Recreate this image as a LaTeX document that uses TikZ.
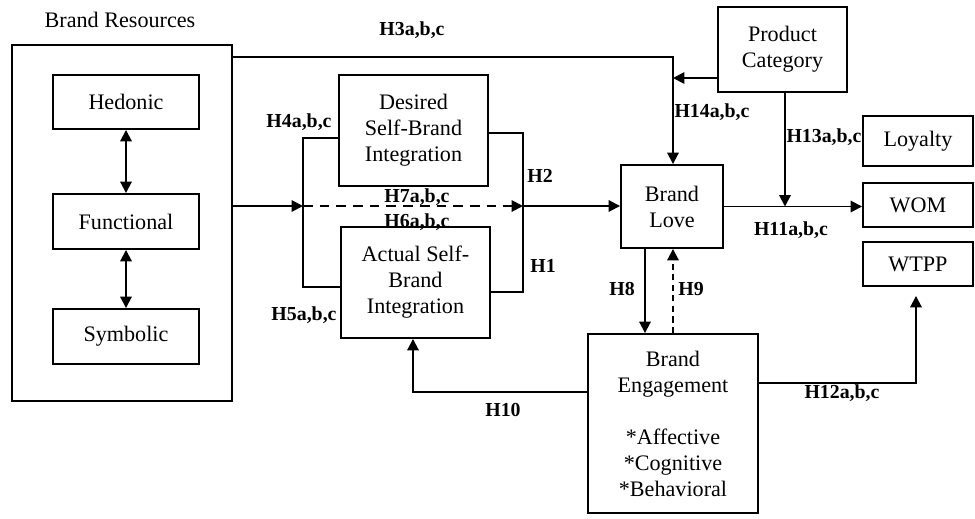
\documentclass[tikz,border=0pt]{standalone}
\usepackage{fontspec}
\setmainfont{Liberation Serif}
\usetikzlibrary{arrows.meta}

\begin{document}
\begin{tikzpicture}[x=0.02cm, y=-0.02cm, line width=1.1pt,
    >={Triangle[length=6.5pt,width=6.5pt]},
    box/.style={draw, align=center, inner sep=0pt, font=\fontsize{12.6}{14.8}\selectfont},
    hyp/.style={font=\fontsize{11.3}{13}\selectfont\bfseries}]
  \useasboundingbox (0,0) rectangle (975,518);
  % brand resources
  \node (restitle) [font=\fontsize{12.6}{14.8}\selectfont] at (120,20) {Brand Resources};
  \node (res) [box, minimum width=4.40cm, minimum height=7.12cm] at (122,223) {};
  \node (hedonic) [box, minimum width=2.92cm, minimum height=1.08cm] at (126,102) {Hedonic};
  \node (functional) [box, minimum width=2.92cm, minimum height=1.10cm] at (126,221.5) {Functional};
  \node (symbolic) [box, minimum width=2.92cm, minimum height=1.10cm] at (126,336.5) {Symbolic};
  \draw [<->] (hedonic) -- (functional);
  \draw [<->] (functional) -- (symbolic);
  % self-brand integration
  \node (desired) [box, minimum width=2.98cm, minimum height=2.22cm] at (413.5,130.5) {Desired\\Self-Brand\\Integration};
  \node (actual) [box, minimum width=2.98cm, minimum height=2.22cm] at (415.5,282.5) {Actual Self-\\Brand\\Integration};
  \node (love) [box, minimum width=2.04cm, minimum height=1.66cm] at (672,206.5) {Brand\\Love};
  \node (category) [box, minimum width=2.58cm, minimum height=1.70cm] at (782.5,49.5) {Product\\Category};
  \node (loyalty) [box, minimum width=2.20cm, minimum height=1.00cm] at (918,141) {Loyalty};
  \node (wom) [box, minimum width=2.20cm, minimum height=0.88cm] at (918,205) {WOM};
  \node (wtpp) [box, minimum width=2.20cm, minimum height=0.88cm] at (918,264) {WTPP};
  \node (engagement) [box, minimum width=3.40cm, minimum height=3.58cm] at (673,423.5)
    {Brand\\Engagement\\[14.8pt]*Affective\\*Cognitive\\*Behavioral};
  % connectors
  \coordinate (split) at (303,206);
  \coordinate (merge) at (523,206);
  \coordinate (lt) at (303,138);
  \coordinate (lb) at (303,287);
  \coordinate (rt) at (523,133);
  \coordinate (rb) at (523,292);
  \draw [->] (res.east |- split) -- (split);
  \draw (desired.west |- lt) -- (lt) -- (lb) -- (actual.west |- lb);
  \draw (desired.east |- rt) -- (rt) -- (rb) -- (actual.east |- rb);
  \draw [->, dash pattern=on 5.5pt off 4pt] (split) -- (merge);
  \draw [->] (merge) -- (love.west |- merge);
  \coordinate (top) at (673,57);
  \coordinate (cat) at (673,78);
  \coordinate (mod) at (785,206.5);
  \draw [->] (res.east |- top) -- (top) -- (love.north -| top);
  \draw [->] (category.west |- cat) -- (cat);
  \draw [->] (love.east) -- (love.east -| wom.west);
  \draw [->] (category.south -| mod) -- (mod);
  \draw [->] ([xshift=-0.54cm]love.south) -- ([xshift=-0.54cm]love.south |- engagement.north);
  \draw [->, dash pattern=on 3.5pt off 2.5pt] (engagement.north) -- (engagement.north |- love.south);
  \coordinate (back) at (413,392);
  \coordinate (up) at (916,383);
  \draw [->] (engagement.west |- back) -- (back) -- (back |- actual.south);
  \draw [->] (engagement.east |- up) -- (up) -- ([yshift=-0.18cm]up |- wtpp.south);
  % hypotheses
  \node (h3) [hyp] at (412,30) {H3a,b,c};
  \node (h4) [hyp] at (299,122) {H4a,b,c};
  \node (h5) [hyp] at (304,315) {H5a,b,c};
  \node (h7) [hyp] at (417,197) {H7a,b,c};
  \node (h6) [hyp] at (417,222) {H6a,b,c};
  \node (h2) [hyp] at (540,176) {H2};
  \node (h1) [hyp] at (543,266) {H1};
  \node (h14) [hyp] at (712,112) {H14a,b,c};
  \node (h13) [hyp] at (824,137) {H13a,b,c};
  \node (h11) [hyp] at (791,230) {H11a,b,c};
  \node (h8) [hyp] at (622,289) {H8};
  \node (h9) [hyp] at (691,289) {H9};
  \node (h10) [hyp] at (503,410) {H10};
  \node (h12) [hyp] at (842,393) {H12a,b,c};
\end{tikzpicture}
\end{document}
